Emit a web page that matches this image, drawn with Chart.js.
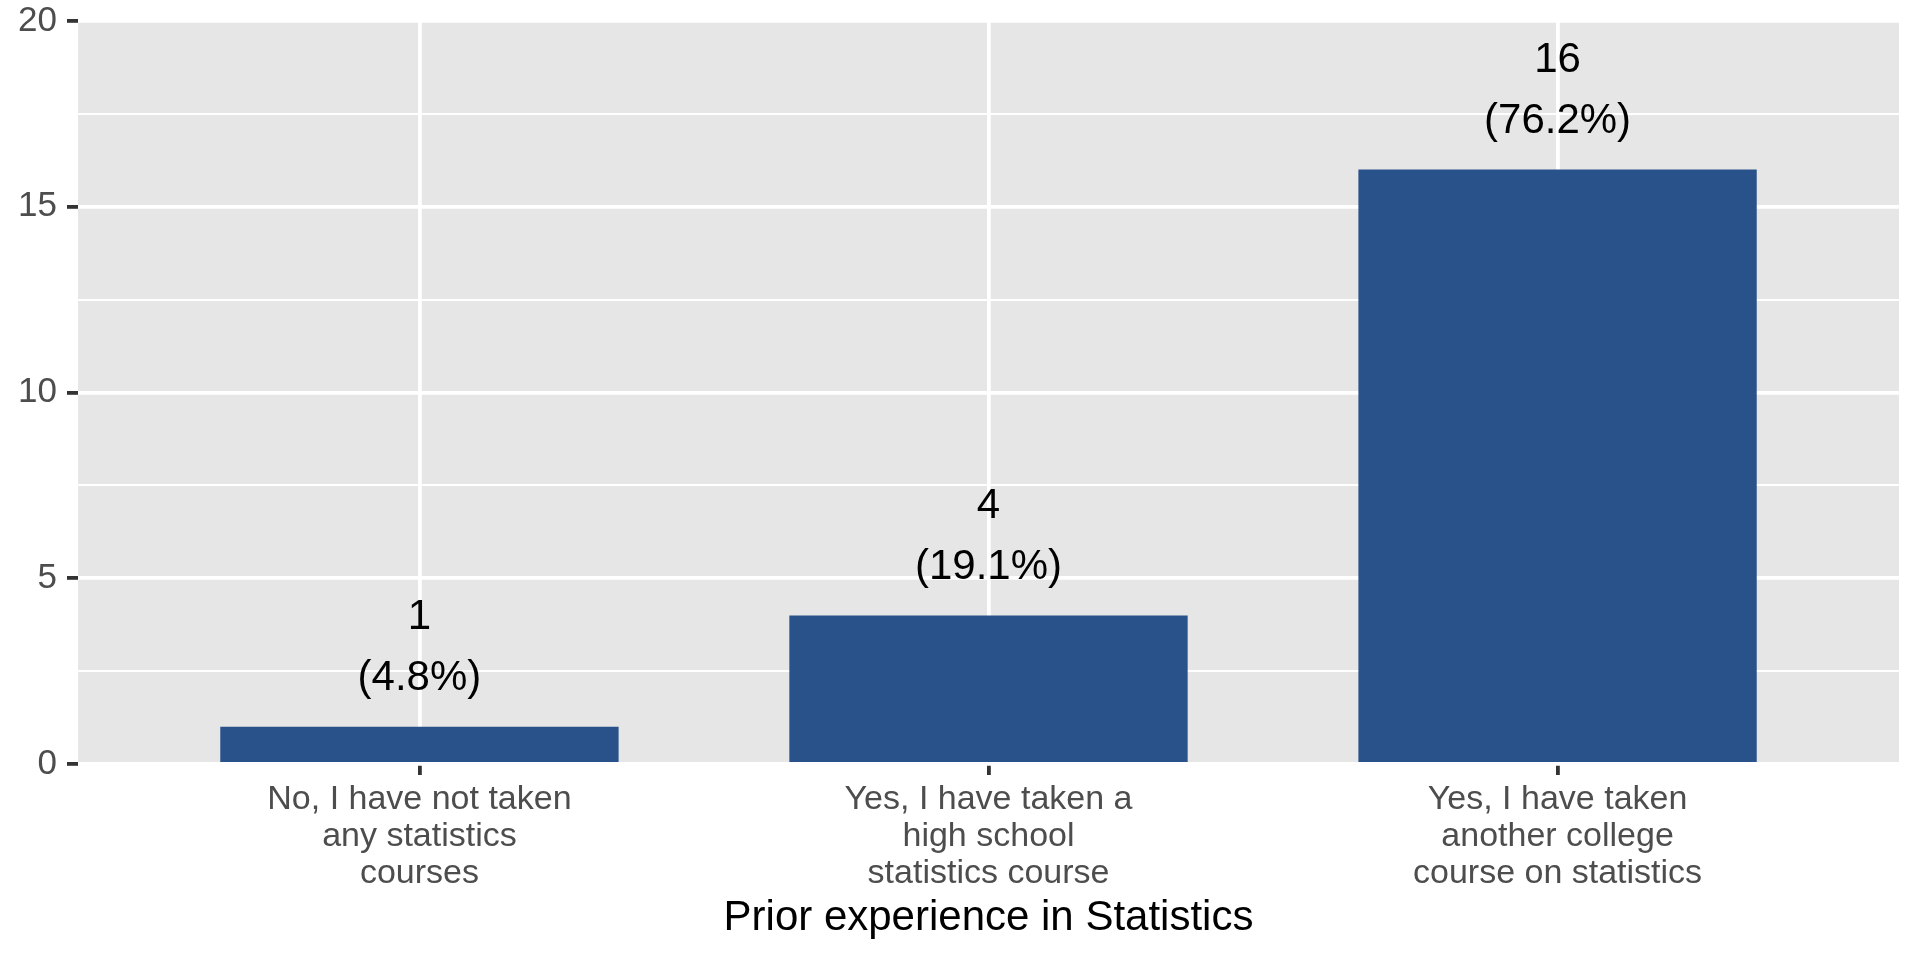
<!DOCTYPE html>
<html>
<head>
<meta charset="utf-8">
<script src="https://cdn.jsdelivr.net/npm/chart.js@4/dist/chart.umd.min.js"></script>
<style>
html,body{margin:0;padding:0;background:#ffffff;}
#wrap{width:1920px;height:960px;}
</style>
</head>
<body>
<div id="wrap"><canvas id="c" width="1920" height="960"></canvas></div>
<script>
// ---- data ----
const categories = [
  ["No, I have not taken", "any statistics", "courses"],
  ["Yes, I have taken a", "high school", "statistics course"],
  ["Yes, I have taken", "another college", "course on statistics"]
];
const counts = [1, 4, 16];
const percentLabels = ["(4.8%)", "(19.1%)", "(76.2%)"];
const yMin = 0;
const yMax = 20;
const yMajorStep = 5;
const yMinorStep = 2.5;
const xTitle = "Prior experience in Statistics";

// ---- style ----
const FONT = "'Liberation Sans', Arial, Helvetica, sans-serif";
const panelBg = '#E6E6E6';
const barColor = '#29528A';
const MAJOR_W = 3.8;
const MINOR_W = 1.9;

const panelPlugin = {
  id: 'panelBg',
  beforeDraw(chart) {
    const {ctx, chartArea: a} = chart;
    ctx.save();
    ctx.fillStyle = panelBg;
    ctx.fillRect(a.left, a.top, a.right - a.left, a.bottom - a.top);
    ctx.restore();
  }
};

const labelPlugin = {
  id: 'barLabels',
  afterDatasetsDraw(chart) {
    const {ctx} = chart;
    const meta = chart.getDatasetMeta(0);
    const ys = chart.scales.y;
    ctx.save();
    ctx.fillStyle = '#000000';
    ctx.font = '42px ' + FONT;
    ctx.textAlign = 'center';
    ctx.textBaseline = 'middle';
    meta.data.forEach((bar, i) => {
      const top = ys.getPixelForValue(counts[i]);
      ctx.fillText(String(counts[i]), bar.x, top - 109);
      ctx.fillText(percentLabels[i], bar.x, top - 48);
    });
    ctx.restore();
  }
};

const isMajor = v => Math.abs(v / yMajorStep - Math.round(v / yMajorStep)) < 1e-9;

new Chart(document.getElementById('c'), {
  type: 'bar',
  data: {
    datasets: [{
      data: counts.map((v, i) => ({x: i, y: v})),
      backgroundColor: barColor,
      borderWidth: 0,
      barPercentage: 0.7,
      categoryPercentage: 1.0
    }]
  },
  options: {
    responsive: false,
    animation: false,
    devicePixelRatio: 1,
    layout: {padding: {left: 0, right: 21, top: 21, bottom: 0}},
    plugins: {legend: {display: false}, tooltip: {enabled: false}},
    scales: {
      x: {
        type: 'linear',
        offset: false,
        min: -0.6,
        max: categories.length - 0.4,
        bounds: 'data',
        afterBuildTicks: axis => { axis.ticks = categories.map((_, i) => ({value: i})); },
        afterFit: s => { s.height = 196; s.paddingLeft = 0; s.paddingRight = 0; },
        ticks: {
          autoSkip: false,
          maxRotation: 0,
          minRotation: 0,
          padding: 6,
          color: '#4D4D4D',
          font: {family: FONT, size: 34, lineHeight: 37 / 34},
          callback: v => categories[v]
        },
        grid: {
          offset: false,
          color: '#FFFFFF',
          lineWidth: MAJOR_W,
          tickColor: '#333333',
          tickLength: 11,
          tickWidth: MAJOR_W
        },
        border: {display: false},
        title: {
          display: true,
          text: xTitle,
          color: '#000000',
          font: {family: FONT, size: 42, lineHeight: 1.2},
          padding: {top: 0, bottom: 16}
        }
      },
      y: {
        type: 'linear',
        min: yMin,
        max: yMax,
        afterFit: s => { s.width = 78; s.paddingTop = 0; s.paddingBottom = 0; },
        ticks: {
          stepSize: yMinorStep,
          autoSkip: false,
          padding: 10,
          color: '#4D4D4D',
          font: {family: FONT, size: 35},
          callback: v => isMajor(v) ? String(v) : ''
        },
        grid: {
          color: '#FFFFFF',
          lineWidth: c => (c.tick && isMajor(c.tick.value)) ? MAJOR_W : MINOR_W,
          tickColor: c => (c.tick && isMajor(c.tick.value)) ? '#333333' : 'rgba(0,0,0,0)',
          tickLength: 11,
          tickWidth: MAJOR_W
        },
        border: {display: false}
      }
    }
  },
  plugins: [panelPlugin, labelPlugin]
});
</script>
</body>
</html>
